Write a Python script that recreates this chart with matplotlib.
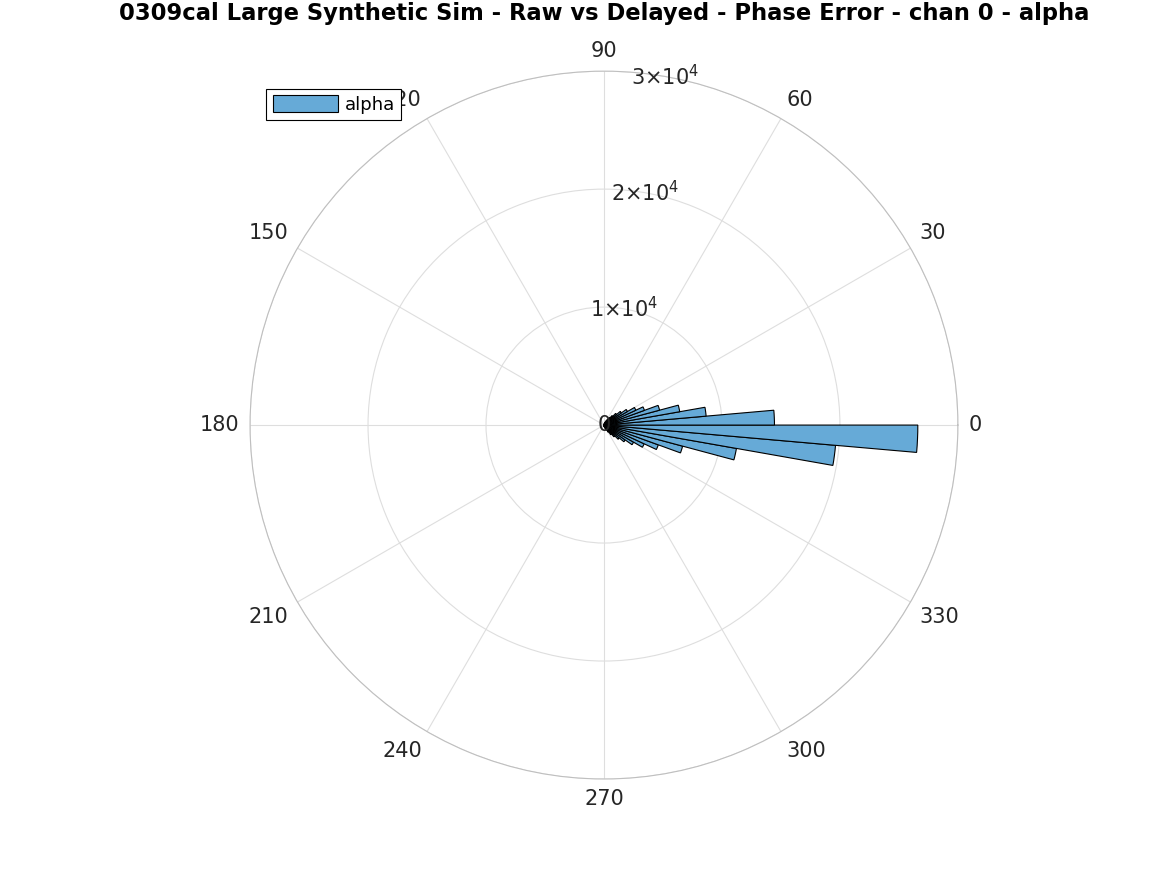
import numpy as np
import matplotlib
matplotlib.use("Agg")
import matplotlib.pyplot as plt

# Histogram of phase error: 5-degree bins, left edges (degrees) and counts
bin_left_deg = [-105, -100, -95, -90, -85, -80, -75, -70, -65, -60, -55, -50,
                -45, -40, -35, -30, -25, -20, -15, -10, -5,
                0, 5, 10, 15, 20, 25, 30, 35, 40, 45, 50, 55, 60, 65, 70, 75, 80, 85]
bin_counts = [40, 55, 70, 95, 125, 170, 240, 340, 480, 700, 1000, 1300,
              1700, 2200, 2900, 3760, 4900, 6900, 11400, 19700, 26600,
              14450, 8690, 6520, 4880, 3650, 2980, 2300, 1800, 1400,
              1050, 780, 560, 400, 280, 190, 120, 70, 40]

theta_ticks = [0, 30, 60, 90, 120, 150, 180, 210, 240, 270, 300, 330]
r_ticks = [0, 10000, 20000, 30000]
r_tick_labels = ["0", r"$1{\times}10^4$", r"$2{\times}10^4$", r"$3{\times}10^4$"]
series_name = "alpha"
title = "0309cal Large Synthetic Sim - Raw vs Delayed - Phase Error - chan 0 - alpha"

fig = plt.figure(figsize=(11.67, 8.75), dpi=100)
ax = fig.add_axes([0.2142, 0.1097, 0.6067, 0.809], projection="polar")

face = (0.4, 0.668, 0.845)
ax.bar(np.deg2rad(bin_left_deg), bin_counts, width=np.deg2rad(5), align="edge",
       color=face, edgecolor="black", linewidth=0.8, label=series_name, zorder=3)

rmax = r_ticks[-1]
ax.set_ylim(0, rmax)
ax.set_thetagrids(theta_ticks, labels=[""] * len(theta_ticks))
ax.set_rgrids(r_ticks, labels=[""] * len(r_ticks))

# theta labels placed MATLAB-style: text box edge at fixed distance outside circle
for t in theta_ticks:
    c, s = np.cos(np.deg2rad(t)), np.sin(np.deg2rad(t))
    ha = "left" if c > 0.01 else ("right" if c < -0.01 else "center")
    va = "bottom" if s > 0.01 else ("top" if s < -0.01 else "center")
    ax.annotate(str(t), xy=(np.deg2rad(t), rmax), xytext=(c * 7.5, s * 7.5),
                textcoords="offset points", ha=ha, va=va, fontsize=15,
                color="#262626", annotation_clip=False)

for r, lab in zip(r_ticks, r_tick_labels):
    ax.text(np.deg2rad(80), r, lab, ha="center", va="center", fontsize=15,
            color="#262626", zorder=5)

ax.grid(True, color="#dedede", linewidth=0.8)
ax.spines["polar"].set_color("#bfbfbf")
ax.spines["polar"].set_linewidth(0.8)

fig.suptitle(title, x=0.518, y=0.998, fontsize=16.3, fontweight="bold")

leg = fig.legend(loc="upper left", bbox_to_anchor=(0.2205, 0.909), fontsize=13,
                 fancybox=False, edgecolor="black", framealpha=1,
                 handlelength=3.6, handleheight=1.1, borderpad=0.35,
                 handletextpad=0.4)
leg.get_frame().set_linewidth(0.8)

fig.savefig("out.png", dpi=100)
